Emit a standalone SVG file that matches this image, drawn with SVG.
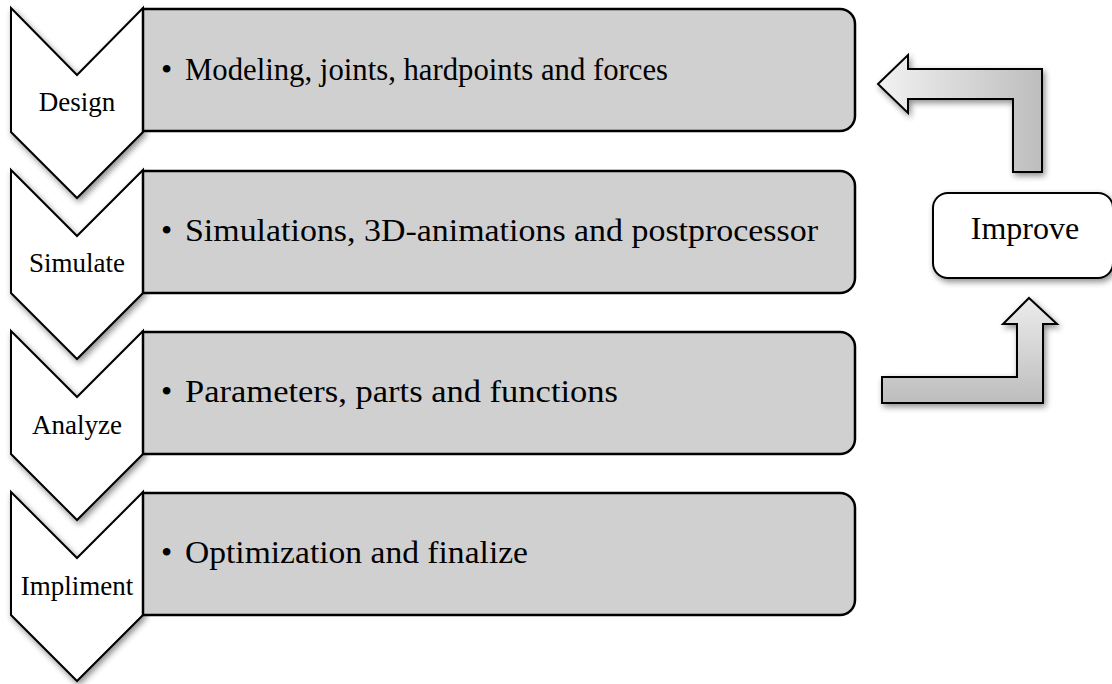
<svg xmlns="http://www.w3.org/2000/svg" width="1112" height="684" viewBox="0 0 1112 684">
<style>
.box{fill:#d0d0d0;stroke:#000;stroke-width:2.5}
.chev{fill:#fff;stroke:#000;stroke-width:2;stroke-linejoin:miter}
.lbl{font-family:"Liberation Serif",serif;font-size:27px;fill:#000;text-anchor:middle}
.txt{font-family:"Liberation Serif",serif;font-size:32px;fill:#000}
.imp{fill:#fff;stroke:#000;stroke-width:2}
.arr{stroke:#000;stroke-width:2;stroke-linejoin:miter}
</style>
<defs>
<filter id="sh" x="-20%" y="-20%" width="150%" height="150%">
<feGaussianBlur in="SourceAlpha" stdDeviation="3"/>
<feOffset dx="2" dy="3" result="b"/>
<feComponentTransfer><feFuncA type="linear" slope="0.45"/></feComponentTransfer>
<feMerge><feMergeNode/><feMergeNode in="SourceGraphic"/></feMerge>
</filter>
<linearGradient id="gh" x1="0" y1="0" x2="1" y2="0">
<stop offset="0" stop-color="#f2f2f2"/><stop offset="1" stop-color="#bdbdbd"/>
</linearGradient>
<linearGradient id="gv" x1="0" y1="0" x2="0" y2="1">
<stop offset="0" stop-color="#ececec"/><stop offset="1" stop-color="#bdbdbd"/>
</linearGradient>
</defs>

<g id="step1">
<path class="chev" filter="url(#sh)" d="M11,8 L77,75 L143,8 L143,132 L77,198 L11,132 Z"/>
<path class="box" d="M143,9 H840 A15,15 0 0 1 855,24 V116 A15,15 0 0 1 840,131 H143 Z"/>
<text class="lbl" x="77" y="111">Design</text>
<text class="txt" y="80"><tspan x="161">•</tspan><tspan x="185" textLength="483" lengthAdjust="spacingAndGlyphs">Modeling, joints, hardpoints and forces</tspan></text>
</g>
<g id="step2">
<path class="chev" filter="url(#sh)" d="M11,170 L77,236 L143,170 L143,293 L77,359 L11,293 Z"/>
<path class="box" d="M143,171 H840 A15,15 0 0 1 855,186 V278 A15,15 0 0 1 840,293 H143 Z"/>
<text class="lbl" x="77" y="272">Simulate</text>
<text class="txt" y="241"><tspan x="161">•</tspan><tspan x="185" textLength="633" lengthAdjust="spacingAndGlyphs">Simulations, 3D-animations and postprocessor</tspan></text>
</g>
<g id="step3">
<path class="chev" filter="url(#sh)" d="M11,331 L77,397 L143,331 L143,454 L77,520 L11,454 Z"/>
<path class="box" d="M143,332 H840 A15,15 0 0 1 855,347 V439 A15,15 0 0 1 840,454 H143 Z"/>
<text class="lbl" x="77" y="434">Analyze</text>
<text class="txt" y="402"><tspan x="161">•</tspan><tspan x="185" textLength="433" lengthAdjust="spacingAndGlyphs">Parameters, parts and functions</tspan></text>
</g>
<g id="step4">
<path class="chev" filter="url(#sh)" d="M11,492 L77,558 L143,492 L143,615 L77,681 L11,615 Z"/>
<path class="box" d="M143,493 H840 A15,15 0 0 1 855,508 V600 A15,15 0 0 1 840,615 H143 Z"/>
<text class="lbl" x="77" y="595">Impliment</text>
<text class="txt" y="563"><tspan x="161">•</tspan><tspan x="185" textLength="343" lengthAdjust="spacingAndGlyphs">Optimization and finalize</tspan></text>
</g>
<g id="improve">
<rect class="imp" filter="url(#sh)" x="933" y="193" width="180" height="85" rx="15"/>
<text class="txt" x="1025" y="239" text-anchor="middle">Improve</text>
</g>
<g id="connectors">
<path class="arr" fill="url(#gh)" filter="url(#sh)" d="M878,84 L908,55 L908,69 L1042,69 L1042,172 L1013,172 L1013,99 L908,99 L908,113 Z"/>
<path class="arr" fill="url(#gv)" filter="url(#sh)" d="M1029,298 L1057,324 L1043,324 L1043,403 L882,403 L882,377 L1017,377 L1017,324 L1003,324 Z"/>
</g>
</svg>
